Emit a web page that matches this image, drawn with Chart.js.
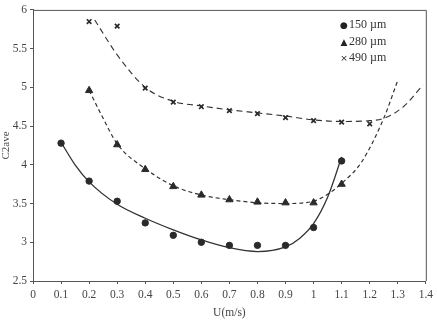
<!DOCTYPE html>
<html>
<head>
<meta charset="utf-8">
<script src="https://cdn.jsdelivr.net/npm/chart.js@4"></script>
<style>
  html, body { margin: 0; padding: 0; background: #fff; }
  #wrap { position: relative; width: 437px; height: 324px; }
  #legend { position: absolute; left: 339px; top: 17px; font: 12px "Liberation Serif", serif; color: #333; line-height: 15.5px; }
  #legend span.sym { display: inline-block; width: 10px; text-align: center; color: #222; font-family: "DejaVu Sans", sans-serif; font-size: 9px; }
</style>
</head>
<body>
<div id="wrap">
  <canvas id="chart" width="437" height="324"></canvas>
  <div id="legend"></div>
</div>
<script>
// measured points
var uValues = [0.1, 0.2, 0.3, 0.4, 0.5, 0.6, 0.7, 0.8, 0.9, 1.0, 1.1, 1.2];
var c150 = [4.28, 3.79, 3.53, 3.25, 3.09, 3.00, 2.96, 2.96, 2.96, 3.19, 4.05, null];
var c280 = [null, 4.96, 4.26, 3.94, 3.72, 3.61, 3.55, 3.52, 3.51, 3.51, 3.75, null];
var c490 = [null, 5.85, 5.79, 4.99, 4.81, 4.75, 4.70, 4.66, 4.61, 4.57, 4.55, 4.53];

// trend lines
var fit150X = [0.1, 0.15, 0.2, 0.3, 0.4, 0.5, 0.6, 0.7, 0.8, 0.9, 0.95, 1.0, 1.05, 1.1];
var fit150Y = [4.29, 4.0, 3.78, 3.49, 3.31, 3.16, 3.03, 2.93, 2.88, 2.94, 3.05, 3.24, 3.58, 4.1];
var fit280X = [0.2, 0.25, 0.3, 0.4, 0.5, 0.6, 0.7, 0.8, 0.9, 1.0, 1.05, 1.1, 1.17, 1.25, 1.3];
var fit280Y = [4.96, 4.6, 4.27, 3.95, 3.73, 3.61, 3.55, 3.51, 3.5, 3.53, 3.62, 3.76, 4.03, 4.6, 5.09];
var fit490X = [0.22, 0.3, 0.4, 0.5, 0.6, 0.7, 0.8, 0.9, 1.0, 1.1, 1.2, 1.25, 1.32, 1.39];
var fit490Y = [5.87, 5.42, 5.0, 4.82, 4.76, 4.71, 4.67, 4.63, 4.58, 4.56, 4.57, 4.6, 4.75, 5.03];

var seriesNames = ['150 \u00b5m', '280 \u00b5m', '490 \u00b5m'];
var seriesSymbols = ['\u25cf', '\u25b2', '\u00d7'];

function toPoints(xs, ys) {
    var pts = [];
    for (var i = 0; i < xs.length; i++) {
        if (ys[i] !== null) pts.push({ x: xs[i], y: ys[i] });
    }
    return pts;
}

function plainTick(value) {
    return String(+value.toFixed(1));
}

var ink = '#2a2a2a';

var frame = {
    id: 'frame',
    afterDraw: function (chart) {
        var a = chart.chartArea;
        var ctx = chart.ctx;
        ctx.save();
        ctx.strokeStyle = '#555';
        ctx.lineWidth = 1;
        ctx.beginPath();
        ctx.moveTo(a.left, a.top + 0.5);
        ctx.lineTo(a.right + 0.5, a.top + 0.5);
        ctx.lineTo(a.right + 0.5, a.bottom);
        ctx.stroke();
        ctx.restore();
    }
};

var data = {
    datasets: [
        { label: seriesNames[0], data: toPoints(uValues, c150), showLine: false, pointStyle: 'circle', pointRadius: 3.2, backgroundColor: ink, borderColor: ink },
        { label: seriesNames[1], data: toPoints(uValues, c280), showLine: false, pointStyle: 'triangle', pointRadius: 4.2, backgroundColor: ink, borderColor: ink },
        { label: seriesNames[2], data: toPoints(uValues, c490), showLine: false, pointStyle: 'crossRot', pointRadius: 3.2, borderWidth: 1.7, backgroundColor: ink, borderColor: ink },
        { label: 'fit150', data: toPoints(fit150X, fit150Y), showLine: true, pointRadius: 0, borderColor: '#333', borderWidth: 1.3, cubicInterpolationMode: 'monotone' },
        { label: 'fit280', data: toPoints(fit280X, fit280Y), showLine: true, pointRadius: 0, borderColor: '#333', borderWidth: 1.2, borderDash: [4, 3], cubicInterpolationMode: 'monotone' },
        { label: 'fit490', data: toPoints(fit490X, fit490Y), showLine: true, pointRadius: 0, borderColor: '#333', borderWidth: 1.1, borderDash: [6, 4], cubicInterpolationMode: 'monotone' }
    ]
};

var tickFont = { family: '"Liberation Serif", serif', size: 11.5 };

var options = {
    responsive: false,
    animation: false,
    layout: { padding: { top: 5, right: 10, left: 0, bottom: 0 } },
    plugins: {
        legend: { display: false },
        tooltip: { enabled: false }
    },
    scales: {
        x: {
            type: 'linear',
            min: 0,
            max: 1.4,
            ticks: { stepSize: 0.1, color: '#444', font: tickFont, padding: 4, callback: plainTick },
            grid: { drawOnChartArea: false, drawTicks: true, tickLength: 3, color: '#555' },
            border: { color: '#555', width: 1 },
            title: { display: true, text: 'U(m/s)', color: '#444', font: tickFont, padding: { top: 2 } },
            afterFit: function (scale) { scale.height = 43; }
        },
        y: {
            type: 'linear',
            min: 2.5,
            max: 6,
            ticks: { stepSize: 0.5, color: '#444', font: tickFont, padding: 3, callback: plainTick },
            grid: { drawOnChartArea: false, drawTicks: true, tickLength: 3, color: '#555' },
            border: { color: '#555', width: 1 },
            title: { display: true, text: 'C2ave', color: '#444', font: { family: '"Liberation Serif", serif', size: 11 }, padding: 0 },
            afterFit: function (scale) { scale.width = 33; }
        }
    }
};

new Chart(document.getElementById('chart'), {
    type: 'scatter',
    data: data,
    options: options,
    plugins: [frame]
});

var legendBox = document.getElementById('legend');
for (var i = 0; i < seriesNames.length; i++) {
    var row = document.createElement('div');
    var sym = document.createElement('span');
    sym.className = 'sym';
    sym.textContent = seriesSymbols[i];
    row.appendChild(sym);
    row.appendChild(document.createTextNode(seriesNames[i]));
    legendBox.appendChild(row);
}
</script>
</body>
</html>
